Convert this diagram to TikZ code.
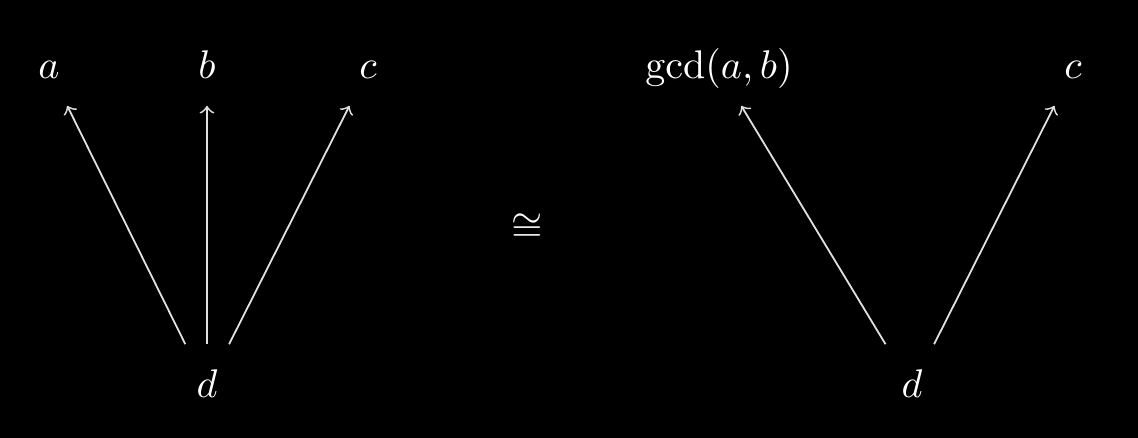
\documentclass[tikz,border=0pt]{standalone}
\usepackage{amssymb}
\begin{document}
\begin{tikzpicture}[x=0.25pt,y=-0.25pt,
  obj/.style={text=white, inner sep=0pt, text height=7pt, text depth=2pt},
  topobj/.style={obj, minimum height=18pt, minimum width=10pt},
  botobj/.style={obj, minimum height=21.5pt, minimum width=15pt},
  arr/.style={draw=white!88!black, line width=0.45pt, -to}]
\fill[black] (0,0) rectangle (1138,438);
\useasboundingbox (0,0) rectangle (1138,438);
% left diagram
\node[topobj] (a) at (49,69) {$a$};
\node[topobj] (b) at (207,69) {$b$};
\node[topobj] (c) at (368,69) {$c$};
\node[botobj] (d) at (207,388) {$d$};
\draw[arr] (d) -- (a);
\draw[arr] (d) -- (b);
\draw[arr] (d) -- (c);
% iso
\node[text=white, inner sep=0pt] (iso) at (527,228) {$\cong$};
% right diagram
\node[topobj] (g) at (719,69) {$\gcd(a,b)$};
\node[topobj] (c2) at (1073,69) {$c$};
\node[botobj] (d2) at (912,388) {$d$};
\draw[arr] (d2) -- (g);
\draw[arr] (d2) -- (c2);
\end{tikzpicture}
\end{document}
